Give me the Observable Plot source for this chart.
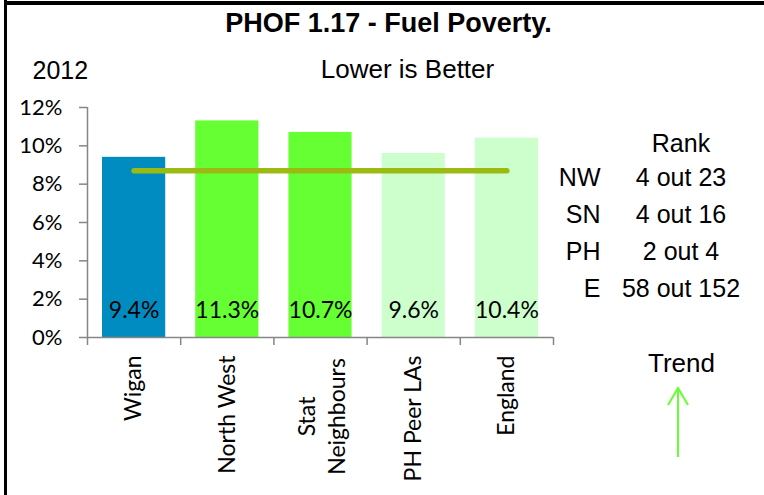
<!DOCTYPE html>
<html><head><meta charset="utf-8">
<script src="https://cdn.jsdelivr.net/npm/d3@7"></script>
<script src="https://cdn.jsdelivr.net/npm/@observablehq/plot@0.6"></script>
<style>
html,body{margin:0;padding:0;background:#fff;}
#wrap{position:relative;width:764px;height:495px;overflow:hidden;background:#fff;}
#wrap svg{position:absolute;left:0;top:0;}
.bt{position:absolute;left:4px;top:1px;width:760px;height:4px;background:#000;z-index:2;}
.bl{position:absolute;left:4px;top:0;width:3px;height:495px;background:#000;z-index:2;}
</style></head><body>
<div id="wrap"></div>
<script>
// ---- data ----
const categories = ["Wigan", "North West", "Stat\nNeighbours", "PH Peer LAs", "England"];
const values = [9.4, 11.3, 10.7, 9.6, 10.4];
const barColors = ["#008CC0", "#66FF33", "#66FF33", "#CCFFCC", "#CCFFCC"];
const averageValue = 8.7;
const yTicks = [0, 2, 4, 6, 8, 10, 12];
const yearLabel = "2012";
const titleText = "PHOF 1.17 - Fuel Poverty.";
const subtitleText = "Lower is Better";
const rankHeader = "Rank";
const rankGroups = ["NW", "SN", "PH", "E"];
const rankValues = ["4 out 23", "4 out 16", "2 out 4", "58 out 152"];
const trendLabel = "Trend";

const rows = categories.map((c, i) => ({i, category: c, value: values[i], color: barColors[i]}));

const gray = "#868686";
const calib = "Lato, 'Open Sans', sans-serif";
const arial = "'Liberation Sans', Arial, sans-serif";
const mL = 87, mT = 107;

const plot = Plot.plot({
  width: 764,
  height: 495,
  marginLeft: mL,
  marginTop: mT,
  marginRight: 211,
  marginBottom: 158,
  style: {background: "transparent", overflow: "visible", fontFamily: calib},
  x: {type: "linear", domain: [0, categories.length]},
  y: {domain: [0, 12]},
  color: {type: "identity"},
  marks: [
    Plot.rectY(rows, {x1: d => d.i, x2: d => d.i + 1, y1: () => 0, y2: "value", fill: "color", insetLeft: 15, insetRight: 15}),
    Plot.ruleY([0], {stroke: gray, strokeWidth: 1.5}),
    Plot.ruleX([0], {stroke: gray, strokeWidth: 1.5}),
    Plot.axisY({ticks: yTicks, tickFormat: d => d + "%", tickSize: 8, tickPadding: 17, stroke: gray, strokeWidth: 1.5, fontSize: 22, fontFamily: calib, fill: "black", label: null}),
    Plot.axisX({ticks: d3.range(categories.length + 1), tickFormat: () => "", tickSize: 8, stroke: gray, strokeWidth: 1.5, label: null}),
    Plot.line([rows[0], rows[rows.length - 1]], {x: d => d.i + 0.5, y: () => averageValue, stroke: "#9BBB13", strokeWidth: 5.5, strokeLinecap: "round"}),
    Plot.text(rows, {x: d => d.i + 0.5, y: () => 0, text: d => d.value.toFixed(1) + "%", dy: -27, lineAnchor: "middle", fontSize: 23, fontFamily: calib, fill: "black"}),
    Plot.text(rows.filter(d => !d.category.includes("\n")), {x: d => d.i + 0.5, y: () => 0, text: "category", rotate: -90, textAnchor: "end", lineAnchor: "middle", dy: 18, fontSize: 23, fontFamily: calib, fill: "black"}),
    Plot.text(rows.filter(d => d.category.includes("\n")), {x: d => d.i + 0.5, y: () => 0, text: "category", rotate: -90, textAnchor: "middle", lineAnchor: "middle", lineHeight: 1.3, dy: 79, fontSize: 23, fontFamily: calib, fill: "black"}),
    // annotations
    Plot.text([titleText], {frameAnchor: "top-left", text: d => d, dx: 388 - mL, dy: 12.8 - mT, textAnchor: "middle", lineAnchor: "top", fontSize: 27, fontWeight: "bold", fontFamily: arial, fill: "black"}),
    Plot.text([yearLabel], {frameAnchor: "top-left", text: d => d, dx: 32 - mL, dy: 60.3 - mT, textAnchor: "start", lineAnchor: "top", fontSize: 25, fontFamily: arial, fill: "black"}),
    Plot.text([subtitleText], {frameAnchor: "top-left", text: d => d, dx: 407 - mL, dy: 59.5 - mT, textAnchor: "middle", lineAnchor: "top", fontSize: 26, fontFamily: arial, fill: "black"}),
    Plot.text([rankHeader], {frameAnchor: "top-left", text: d => d, dx: 680.5 - mL, dy: 133.3 - mT, textAnchor: "middle", lineAnchor: "top", fontSize: 25, fontFamily: arial, fill: "black"}),
    Plot.text([rankGroups.join("\n")], {frameAnchor: "top-left", text: d => d, dx: 600 - mL, dy: 159.2 - mT, textAnchor: "end", lineAnchor: "top", lineHeight: 1.48, fontSize: 25, fontFamily: arial, fill: "black"}),
    Plot.text([rankValues.join("\n")], {frameAnchor: "top-left", text: d => d, dx: 680.5 - mL, dy: 159.2 - mT, textAnchor: "middle", lineAnchor: "top", lineHeight: 1.48, fontSize: 25, fontFamily: arial, fill: "black"}),
    Plot.text([trendLabel], {frameAnchor: "top-left", text: d => d, dx: 681 - mL, dy: 353.5 - mT, textAnchor: "middle", lineAnchor: "top", fontSize: 26, fontFamily: arial, fill: "black"})
  ]
});

// trend arrow (upward)
d3.select(plot).append("path")
  .attr("d", "M678,457V388M668,405L678,388L688,405")
  .attr("fill", "none")
  .attr("stroke", "#66FF33")
  .attr("stroke-width", 2);

const wrap = document.getElementById("wrap");
wrap.appendChild(plot);
const bt = document.createElement("div"); bt.className = "bt"; wrap.appendChild(bt);
const bl = document.createElement("div"); bl.className = "bl"; wrap.appendChild(bl);
</script>
</body></html>
